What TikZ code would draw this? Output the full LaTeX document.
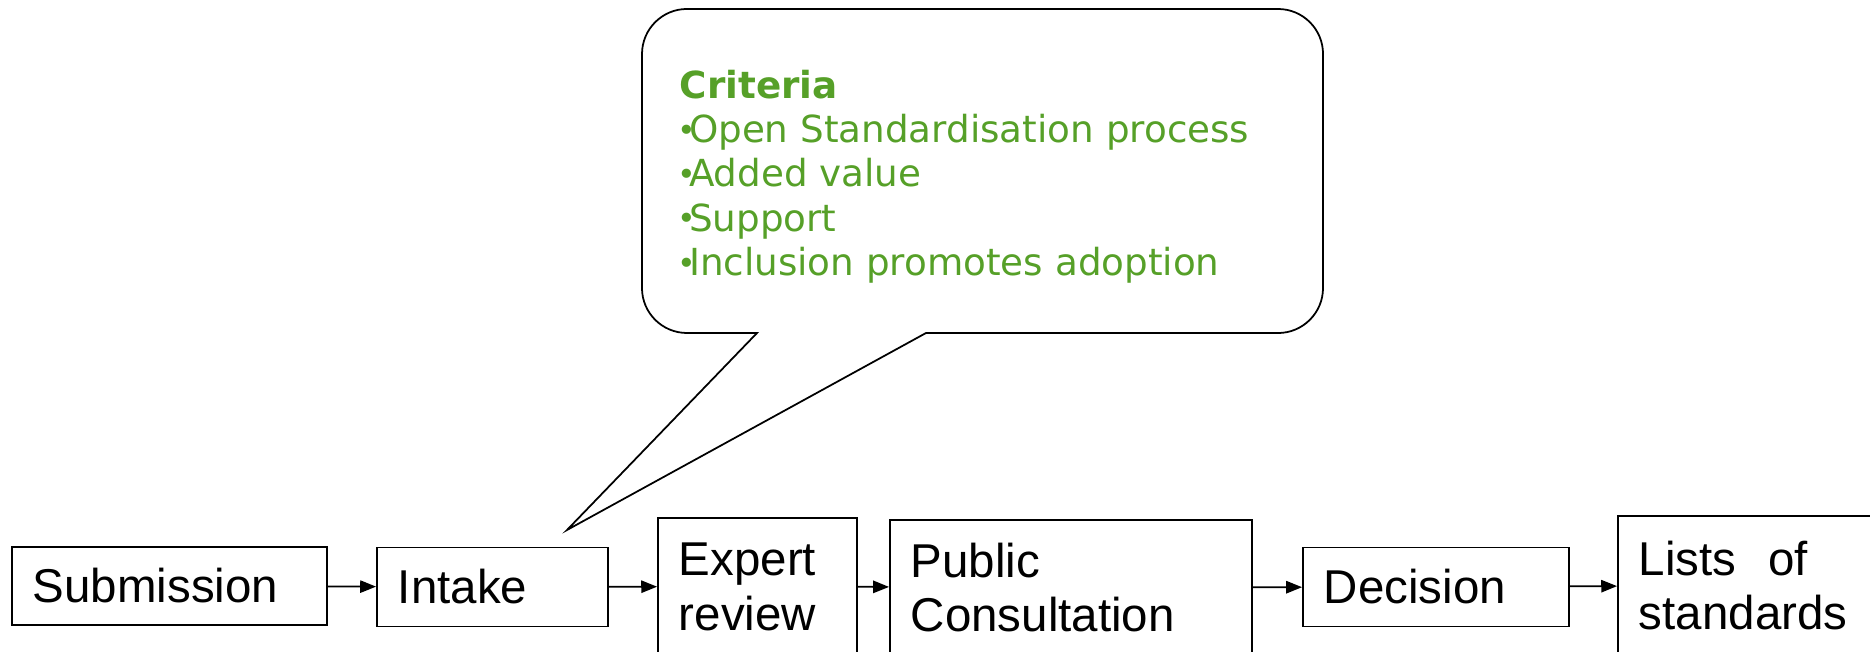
\documentclass[tikz,border=0pt]{standalone}
\usepackage{fontspec}
\setmainfont{Liberation Sans}
\newfontfamily\critfont{DejaVu Sans}
\usetikzlibrary{arrows.meta}
\definecolor{critgreen}{RGB}{86,160,40}
\newcommand\critdot{\kern-0.8pt\raisebox{0.4pt}{\fontsize{9}{9}\selectfont•}\kern-1.9pt}

\begin{document}
\begin{tikzpicture}[x=0.01cm, y=-0.01cm, line width=0.5pt,
                >={Triangle[length=4.5pt,width=3.5pt]}]
                \useasboundingbox (0,0) rectangle (1870,652);
                \clip (0,0) rectangle (1870,652);

                \begin{scope}[
                        every node/.style={draw, rectangle, align=left, inner xsep=0.21cm, inner ysep=0pt,
                            font=\fontsize{13.5}{15.6}\selectfont}
                    ]

                    \node[text width=2.73cm, minimum height=0.78cm] (sub) at (169.5,586) {Submission};
                    \node[text width=1.89cm, minimum height=0.79cm] (intake) at (492.5,587) {Intake};
                    \node[text width=1.57cm, minimum height=1.37cm] (expert) at (757.5,586.5) {Expert\\review};
                    \node[text width=3.20cm, minimum height=1.35cm] (public) at (1071,587.5) {Public\\Consultation};
                    \node[text width=2.24cm, minimum height=0.79cm] (decision) at (1436,587) {Decision};
                    \node[text width=2.20cm, minimum height=1.39cm] (lists) at (1749,585.5) {Lists~\ of\\standards};
                \end{scope}

                \draw[->] (sub) edge (intake);
                \draw[->] (intake) edge (expert);
                \draw[->] (expert) edge (public);
                \draw[->] (public) edge (decision);
                \draw[->] (decision) edge (lists);

                % callout with the criteria
                \coordinate (tip) at (567,530);
                \draw (757,333) -- (687,333) arc[start angle=270, end angle=180, radius=0.45cm]
                    -- (642,54) arc[start angle=180, end angle=90, radius=0.45cm]
                    -- (1278,9) arc[start angle=90, end angle=0, radius=0.45cm]
                    -- (1323,288) arc[start angle=0, end angle=-90, radius=0.45cm]
                    -- (926,333) -- (tip) -- cycle;

                \node[anchor=north west, inner sep=0pt, align=left, text=critgreen,
                    font=\critfont\fontsize{10.6}{12.6}\selectfont] (crit) at (679,69)
                    {\textbf{Criteria}\\\critdot Open Standardisation process\\\critdot Added value\\\critdot Support\\\critdot Inclusion promotes adoption};
            \end{tikzpicture}
\end{document}
